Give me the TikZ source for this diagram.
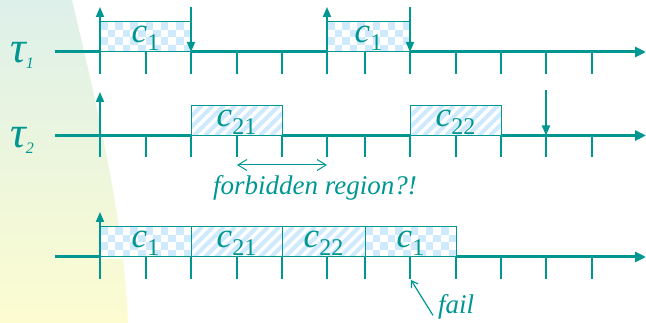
\documentclass[tikz,border=0pt]{standalone}
\usepackage{fontspec}
\setmainfont{Liberation Serif}
\usetikzlibrary{arrows.meta}
\definecolor{lineteal}{RGB}{0,150,145}
\definecolor{chkblue}{RGB}{207,234,252}
\definecolor{panetop}{RGB}{221,240,234}
\definecolor{panebot}{RGB}{252,252,208}
\tikzset{timeaxis/.style = {lineteal, line width = 3, -{Triangle[length = 11, width = 10]}}}
\tikzset{tickline/.style = {lineteal, line width = 1.3}}
\tikzset{event/.style = {lineteal, line width = 1.8, -{Triangle[length = 10, width = 8]}}}
\tikzset{boxline/.style = {lineteal, line width = 1}}
\tikzset{lbl/.style = {text = lineteal, inner sep = 0}}
\newcommand\tickpos{100,146,191,237,282,327,365,410,456,501,546,592}
\newcommand\job[1]{{\fontsize{35}{35}\selectfont\itshape c}\raisebox{-8pt}{\fontsize{24}{24}\selectfont #1}}
\newcommand\task[1]{{\fontsize{44}{44}\selectfont\itshape τ}\raisebox{-6pt}{\fontsize{16}{16}\selectfont\itshape #1}}
% checkered execution box: left, right, axis
\newcommand\chkbox[3]{%
  \fill[white] (#1,#3-30) rectangle (#2,#3+1.6);
  \begin{scope}
    \clip (#1,#3-30) rectangle (#2,#3);
    \foreach \i in {0,...,12} {
      \foreach \j in {0,...,3} {
        \ifodd\numexpr\i+\j\relax\else
          \fill[chkblue] (#1+\i*7.6,#3-30+\j*7.6) rectangle ++(7.6,7.6);
        \fi
      }
    }
  \end{scope}
  \draw[boxline] (#1,#3-30) rectangle (#2,#3);
}
% hatched execution box
\newcommand\hatchbox[3]{%
  \fill[white] (#1,#3-30) rectangle (#2,#3+1.6);
  \begin{scope}
    \clip (#1,#3-30) rectangle (#2,#3);
    \foreach \k in {0,...,11}
      \draw[chkblue, line width = 4] (#1-30+\k*11,#3) -- ++(30,-30);
  \end{scope}
  \draw[boxline] (#1,#3-30) rectangle (#2,#3);
}

\begin{document}
\begin{tikzpicture}[x = 1pt, y = -1pt]
  \useasboundingbox (0,0) rectangle (646,323);
  \shade[top color = panetop, bottom color = panebot]
    (0,0) -- (72,0) .. controls (98,110) and (124,220) .. (128,323) -- (0,323) -- cycle;

  \foreach \y in {52, 135.5, 257} {
    \draw[timeaxis] (55,\y) -- (646,\y);
  }

  % task 1
  \chkbox{100}{191}{52}
  \chkbox{327}{410}{52}
  % task 2
  \hatchbox{191}{282}{135.5}
  \hatchbox{410}{501}{135.5}
  % schedule
  \chkbox{100}{191}{257}
  \hatchbox{191}{282}{257}
  \hatchbox{282}{365}{257}
  \chkbox{365}{456}{257}

  \foreach \y in {52, 135.5, 257} {
    \foreach \x in \tickpos {
      \draw[tickline] (\x,\y) -- (\x,\y+22);
    }
  }

  \draw[event] (100,52) -- (100,7);
  \draw[event] (191,7) -- (191,52);
  \draw[event] (327,52) -- (327,7);
  \draw[event] (410,7) -- (410,52);
  \draw[event] (100,135.5) -- (100,92);
  \draw[event] (546,90) -- (546,135.5);
  \draw[event] (100,257) -- (100,212);

  \node[lbl, anchor = base west] (tau1) at (10,63) {\task{1}};
  \node[lbl, anchor = base west] (tau2) at (10,148) {\task{2}};

  \node[lbl, anchor = base] (c1a) at (145.5,43) {\job{1}};
  \node[lbl, anchor = base] (c1b) at (368.5,43) {\job{1}};
  \node[lbl, anchor = base] (c21) at (236.5,126.5) {\job{21}};
  \node[lbl, anchor = base] (c22) at (455.5,126.5) {\job{22}};
  \node[lbl, anchor = base] (s1a) at (145.5,248) {\job{1}};
  \node[lbl, anchor = base] (s21) at (236.5,248) {\job{21}};
  \node[lbl, anchor = base] (s22) at (323.5,248) {\job{22}};
  \node[lbl, anchor = base] (s1b) at (410.5,248) {\job{1}};

  \coordinate (fl) at (237,165);
  \coordinate (fr) at (327,165);
  \draw[lineteal, line width = 1, {Straight Barb[length = 9, width = 11]}-{Straight Barb[length = 9, width = 11]}] (fl) -- (fr);
  \node[lbl, anchor = base] (forbid) at (315,195) {\fontsize{27}{27}\selectfont\itshape forbidden region?!};

  \node[lbl, anchor = base west] (fail) at (438,314) {\fontsize{27}{27}\selectfont\itshape fail};
  \coordinate (miss) at (411,280);
  \draw[lineteal, line width = 1.2, -{Straight Barb[length = 6, width = 8]}] ([shift = {(-5,8)}]fail.west) -- (miss);
\end{tikzpicture}
\end{document}
